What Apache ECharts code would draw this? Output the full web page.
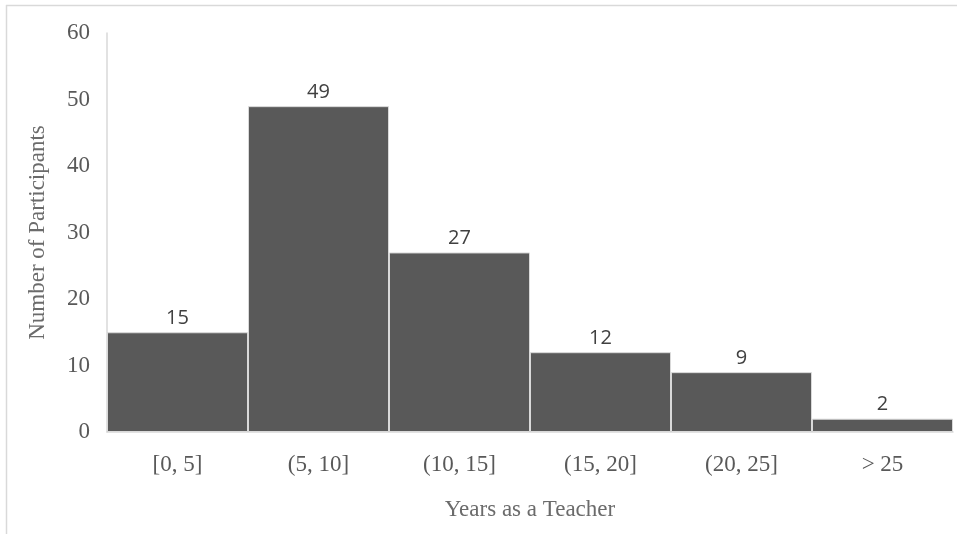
<!DOCTYPE html>
<html>
<head>
<meta charset="utf-8">
<script src="https://cdn.jsdelivr.net/npm/echarts@6/dist/echarts.min.js"></script>
<style>
  html, body { margin: 0; padding: 0; background: #fff; }
  #chart { width: 958px; height: 534px; }
</style>
</head>
<body>
<div id="chart"></div>
<script>
// Years of teaching experience, binned
const categories = ['[0, 5]', '(5, 10]', '(10, 15]', '(15, 20]', '(20, 25]', '> 25'];
const participants = [15, 49, 27, 12, 9, 2];
const yTicks = [0, 10, 20, 30, 40, 50, 60];

const serif = '"Liberation Serif", "DejaVu Serif", serif';
const sans = '"Open Sans", "Noto Sans", sans-serif';

const chart = echarts.init(document.getElementById('chart'));
chart.setOption({
  animation: false,
  backgroundColor: '#ffffff',
  graphic: [
    { type: 'line', shape: { x1: 6, y1: 5.5, x2: 957, y2: 5.5 }, style: { stroke: '#d9d9d9', lineWidth: 1.5 }, silent: true },
    { type: 'line', shape: { x1: 6.5, y1: 5, x2: 6.5, y2: 534 }, style: { stroke: '#d9d9d9', lineWidth: 1.5 }, silent: true }
  ],
  grid: { left: 107, right: 5, top: 33, bottom: 102, containLabel: false },
  xAxis: {
    type: 'category',
    data: categories,
    name: 'Years as a Teacher',
    nameLocation: 'middle',
    nameGap: 66,
    nameTextStyle: { fontFamily: serif, fontSize: 23, color: '#6b6b6b' },
    axisLine: { lineStyle: { color: '#d9d9d9', width: 1.5 } },
    axisTick: { show: true, alignWithLabel: true, inside: true, length: 5, lineStyle: { color: '#d9d9d9', width: 1.5 } },
    axisLabel: { fontFamily: serif, fontSize: 23, color: '#595959', margin: 21 }
  },
  yAxis: {
    type: 'value',
    min: yTicks[0],
    max: yTicks[yTicks.length - 1],
    interval: 10,
    name: 'Number of Participants',
    nameLocation: 'middle',
    nameGap: 58,
    nameRotate: 90,
    nameTextStyle: { fontFamily: serif, fontSize: 23, color: '#6b6b6b' },
    axisLine: { show: true, lineStyle: { color: '#d9d9d9', width: 1.5 } },
    axisTick: { show: false },
    splitLine: { show: false },
    axisLabel: { fontFamily: serif, fontSize: 23, color: '#595959', margin: 17 }
  },
  series: [{
    type: 'bar',
    data: participants,
    barCategoryGap: '0%',
    itemStyle: { color: '#595959', borderColor: '#d9d9d9', borderWidth: 1 },
    label: {
      show: true,
      position: 'top',
      distance: 4,
      fontFamily: sans,
      fontSize: 20,
      color: '#404040'
    }
  }]
});
</script>
</body>
</html>
